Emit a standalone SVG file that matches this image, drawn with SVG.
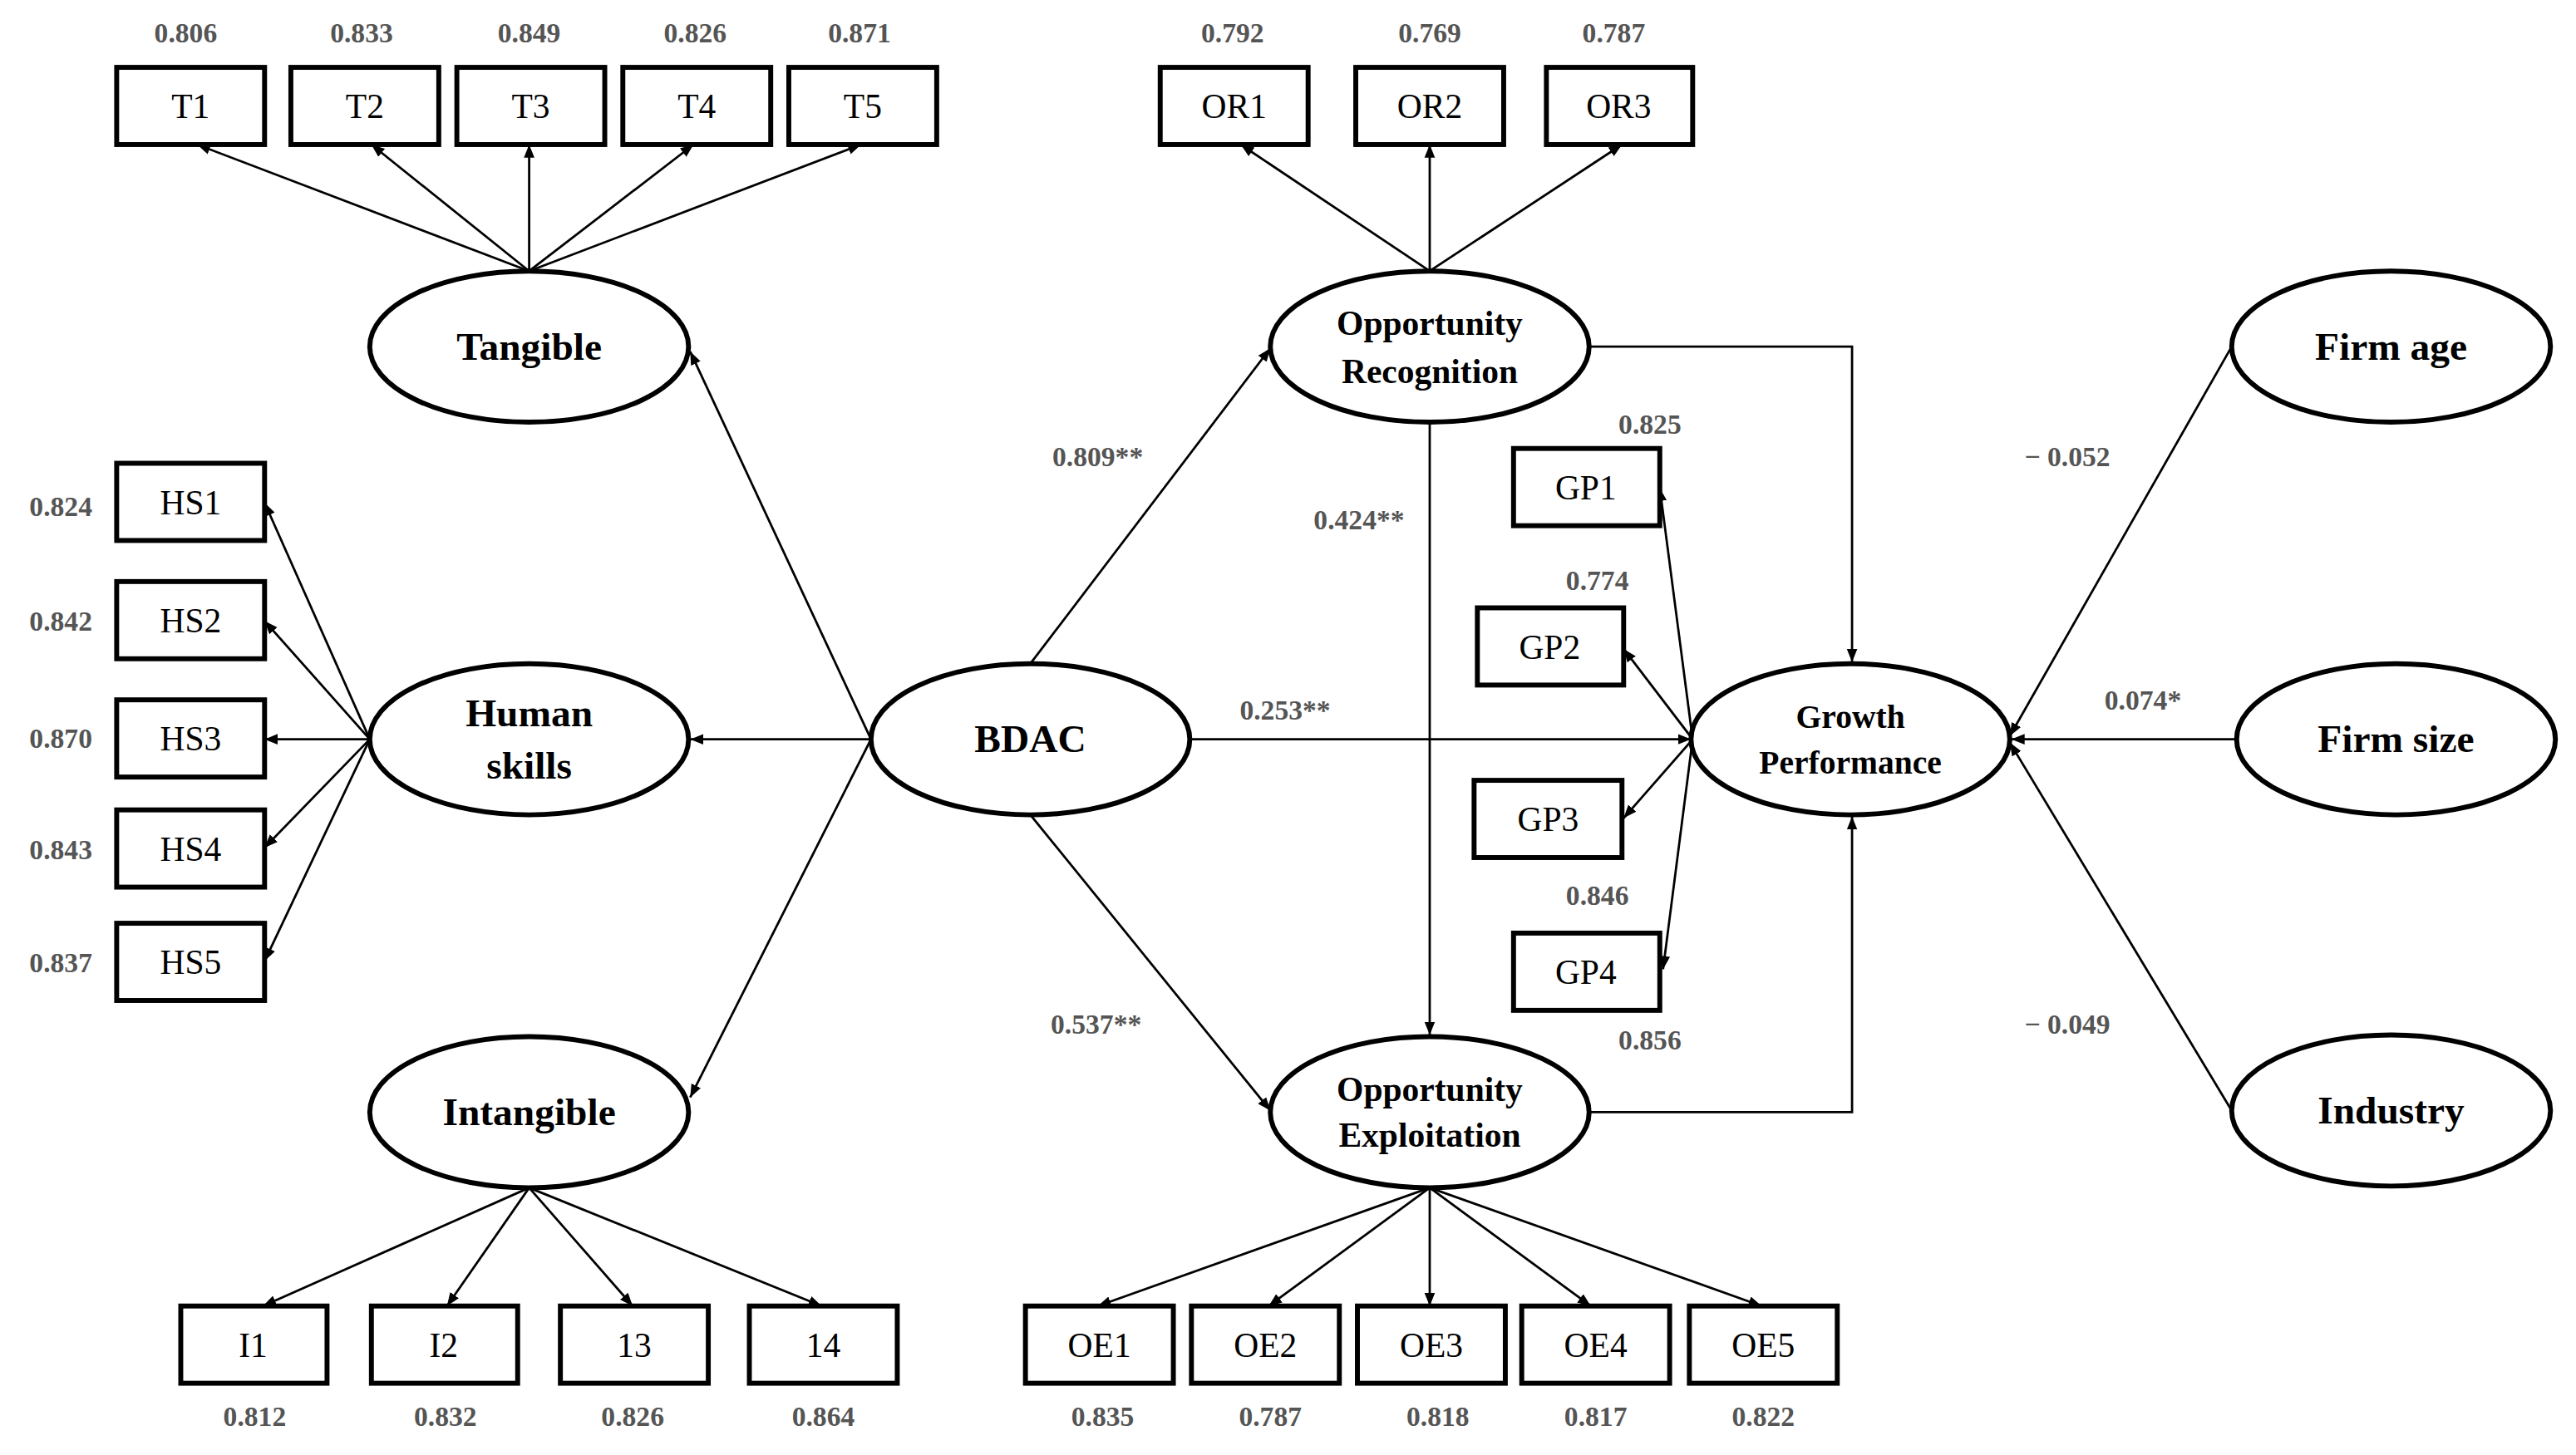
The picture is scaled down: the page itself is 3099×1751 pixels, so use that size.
<svg xmlns="http://www.w3.org/2000/svg" width="3099" height="1751" viewBox="0 0 3099 1751">
<style>
.b{fill:#fff;stroke:#000;stroke-width:3}
.e{fill:#fff;stroke:#000;stroke-width:3}
.bt{font-family:"Liberation Serif",serif;font-size:21px;text-anchor:middle;fill:#000}
.et{font-family:"Liberation Serif",serif;font-size:24px;font-weight:bold;text-anchor:middle;fill:#000}
.v{font-family:"Liberation Serif",serif;font-size:17px;font-weight:bold;text-anchor:middle;fill:#555}
.c{fill:none;stroke:#000;stroke-width:1.4;marker-end:url(#a)}
</style>
<defs><marker id="a" viewBox="0 0 10 10" refX="10" refY="5" markerWidth="8" markerHeight="8" markerUnits="userSpaceOnUse" orient="auto"><path d="M0,1 L10,5 L0,9 z" fill="#000"/></marker></defs>
<rect width="3099" height="1751" fill="#fff"/>
<g transform="scale(1.977)">
<g id="connectors">
<path class="c" d="M322,165 L120,88"/><path class="c" d="M322,165 L226,88"/><path class="c" d="M322,165 L322,88"/><path class="c" d="M322,165 L422,88"/><path class="c" d="M322,165 L524,88"/>
<path class="c" d="M225,450 L161,306"/><path class="c" d="M225,450 L161,378"/><path class="c" d="M225,450 L161,450"/><path class="c" d="M225,450 L161,516"/><path class="c" d="M225,450 L161,585"/>
<path class="c" d="M322,723 L160,795"/><path class="c" d="M322,723 L272,795"/><path class="c" d="M322,723 L385,795"/><path class="c" d="M322,723 L500,795"/>
<path class="c" d="M530,450 L420,214"/><path class="c" d="M530,450 L420,450"/><path class="c" d="M530,450 L420,668"/>
<path class="c" d="M627,404 L773,212"/><path class="c" d="M627,496 L773,676"/><path class="c" d="M725,450 L1029,450"/>
<path class="c" d="M870,165 L755,88"/><path class="c" d="M870,165 L870,88"/><path class="c" d="M870,165 L987,88"/>
<path class="c" d="M870,257 L870,630"/>
<path class="c" d="M870,723 L668,795"/><path class="c" d="M870,723 L772,795"/><path class="c" d="M870,723 L870,795"/><path class="c" d="M870,723 L968,795"/><path class="c" d="M870,723 L1072,795"/>
<path class="c" d="M967,211 L1127,211 L1127,403"/><path class="c" d="M967,677 L1127,677 L1127,497"/>
<path class="c" d="M1030,450 L1010,297"/><path class="c" d="M1030,450 L988,395"/><path class="c" d="M1030,450 L988,498"/><path class="c" d="M1030,450 L1012,590"/>
<path class="c" d="M1358,211 L1223,448"/><path class="c" d="M1360,450 L1224,450"/><path class="c" d="M1358,676 L1223,452"/>
</g>
<g id="labels">
<text class="v" x="113" y="26">0.806</text><text class="v" x="220" y="26">0.833</text><text class="v" x="322" y="26">0.849</text><text class="v" x="423" y="26">0.826</text><text class="v" x="523" y="26">0.871</text>
<text class="v" x="750" y="26">0.792</text><text class="v" x="870" y="26">0.769</text><text class="v" x="982" y="26">0.787</text>
<text class="v" x="37" y="314">0.824</text><text class="v" x="37" y="384">0.842</text><text class="v" x="37" y="455">0.870</text><text class="v" x="37" y="523">0.843</text><text class="v" x="37" y="592">0.837</text>
<text class="v" x="155" y="868">0.812</text><text class="v" x="271" y="868">0.832</text><text class="v" x="385" y="868">0.826</text><text class="v" x="501" y="868">0.864</text>
<text class="v" x="671" y="868">0.835</text><text class="v" x="773" y="868">0.787</text><text class="v" x="875" y="868">0.818</text><text class="v" x="971" y="868">0.817</text><text class="v" x="1073" y="868">0.822</text>
<text class="v" x="668" y="284">0.809**</text><text class="v" x="667" y="629">0.537**</text><text class="v" x="782" y="438">0.253**</text><text class="v" x="827" y="322">0.424**</text>
<text class="v" x="1004" y="264">0.825</text><text class="v" x="972" y="359">0.774</text><text class="v" x="972" y="551">0.846</text><text class="v" x="1004" y="639">0.856</text>
<text class="v" x="1258" y="284">− 0.052</text><text class="v" x="1304" y="432">0.074*</text><text class="v" x="1258" y="629">− 0.049</text>
</g>
<g id="T1"><rect class="b" x="71" y="41" width="90" height="47"/><text class="bt" x="116" y="72">T1</text></g>
<g id="T2"><rect class="b" x="177" y="41" width="90" height="47"/><text class="bt" x="222" y="72">T2</text></g>
<g id="T3"><rect class="b" x="278" y="41" width="90" height="47"/><text class="bt" x="323" y="72">T3</text></g>
<g id="T4"><rect class="b" x="379" y="41" width="90" height="47"/><text class="bt" x="424" y="72">T4</text></g>
<g id="T5"><rect class="b" x="480" y="41" width="90" height="47"/><text class="bt" x="525" y="72">T5</text></g>
<g id="OR1"><rect class="b" x="706" y="41" width="90" height="47"/><text class="bt" x="751" y="72">OR1</text></g>
<g id="OR2"><rect class="b" x="825" y="41" width="90" height="47"/><text class="bt" x="870" y="72">OR2</text></g>
<g id="OR3"><rect class="b" x="941" y="41" width="89" height="47"/><text class="bt" x="985" y="72">OR3</text></g>
<g id="HS1"><rect class="b" x="71" y="282" width="90" height="47"/><text class="bt" x="116" y="313">HS1</text></g>
<g id="HS2"><rect class="b" x="71" y="354" width="90" height="47"/><text class="bt" x="116" y="385">HS2</text></g>
<g id="HS3"><rect class="b" x="71" y="426" width="90" height="47"/><text class="bt" x="116" y="457">HS3</text></g>
<g id="HS4"><rect class="b" x="71" y="493" width="90" height="47"/><text class="bt" x="116" y="524">HS4</text></g>
<g id="HS5"><rect class="b" x="71" y="562" width="90" height="47"/><text class="bt" x="116" y="593">HS5</text></g>
<g id="I1"><rect class="b" x="110" y="795" width="89" height="47"/><text class="bt" x="154" y="826">I1</text></g>
<g id="I2"><rect class="b" x="226" y="795" width="89" height="47"/><text class="bt" x="270" y="826">I2</text></g>
<g id="I3"><rect class="b" x="341" y="795" width="90" height="47"/><text class="bt" x="386" y="826">13</text></g>
<g id="I4"><rect class="b" x="456" y="795" width="90" height="47"/><text class="bt" x="501" y="826">14</text></g>
<g id="OE1"><rect class="b" x="624" y="795" width="90" height="47"/><text class="bt" x="669" y="826">OE1</text></g>
<g id="OE2"><rect class="b" x="725" y="795" width="90" height="47"/><text class="bt" x="770" y="826">OE2</text></g>
<g id="OE3"><rect class="b" x="826" y="795" width="90" height="47"/><text class="bt" x="871" y="826">OE3</text></g>
<g id="OE4"><rect class="b" x="926" y="795" width="90" height="47"/><text class="bt" x="971" y="826">OE4</text></g>
<g id="OE5"><rect class="b" x="1028" y="795" width="90" height="47"/><text class="bt" x="1073" y="826">OE5</text></g>
<g id="GP1"><rect class="b" x="921" y="273" width="89" height="47"/><text class="bt" x="965" y="304">GP1</text></g>
<g id="GP2"><rect class="b" x="899" y="370" width="89" height="47"/><text class="bt" x="943" y="401">GP2</text></g>
<g id="GP3"><rect class="b" x="897" y="475" width="90" height="47"/><text class="bt" x="942" y="506">GP3</text></g>
<g id="GP4"><rect class="b" x="921" y="568" width="89" height="47"/><text class="bt" x="965" y="599">GP4</text></g>
<g id="Tangible"><ellipse class="e" cx="322" cy="211" rx="97" ry="46"/><text class="et" x="322" y="219">Tangible</text></g>
<g id="HumanSkills"><ellipse class="e" cx="322" cy="450" rx="97" ry="46"/><text class="et" x="322" y="442">Human</text><text class="et" x="322" y="474">skills</text></g>
<g id="Intangible"><ellipse class="e" cx="322" cy="677" rx="97" ry="46"/><text class="et" x="322" y="685">Intangible</text></g>
<g id="BDAC"><ellipse class="e" cx="627" cy="450" rx="97" ry="46"/><text class="et" x="627" y="458">BDAC</text></g>
<g id="OR"><ellipse class="e" cx="870" cy="211" rx="97" ry="46"/><text class="et" x="870" y="204" style="font-size:21px">Opportunity</text><text class="et" x="870" y="233" style="font-size:21px">Recognition</text></g>
<g id="OE"><ellipse class="e" cx="870" cy="677" rx="97" ry="46"/><text class="et" x="870" y="670" style="font-size:21px">Opportunity</text><text class="et" x="870" y="698" style="font-size:21px">Exploitation</text></g>
<g id="GrowthPerformance"><ellipse class="e" cx="1126" cy="450" rx="97" ry="46"/><text class="et" x="1126" y="443" style="font-size:20px">Growth</text><text class="et" x="1126" y="471" style="font-size:20px">Performance</text></g>
<g id="FirmAge"><ellipse class="e" cx="1455" cy="211" rx="97" ry="46"/><text class="et" x="1455" y="219">Firm age</text></g>
<g id="FirmSize"><ellipse class="e" cx="1458" cy="450" rx="97" ry="46"/><text class="et" x="1458" y="458">Firm size</text></g>
<g id="Industry"><ellipse class="e" cx="1455" cy="676" rx="97" ry="46"/><text class="et" x="1455" y="684">Industry</text></g>
</g>
</svg>
